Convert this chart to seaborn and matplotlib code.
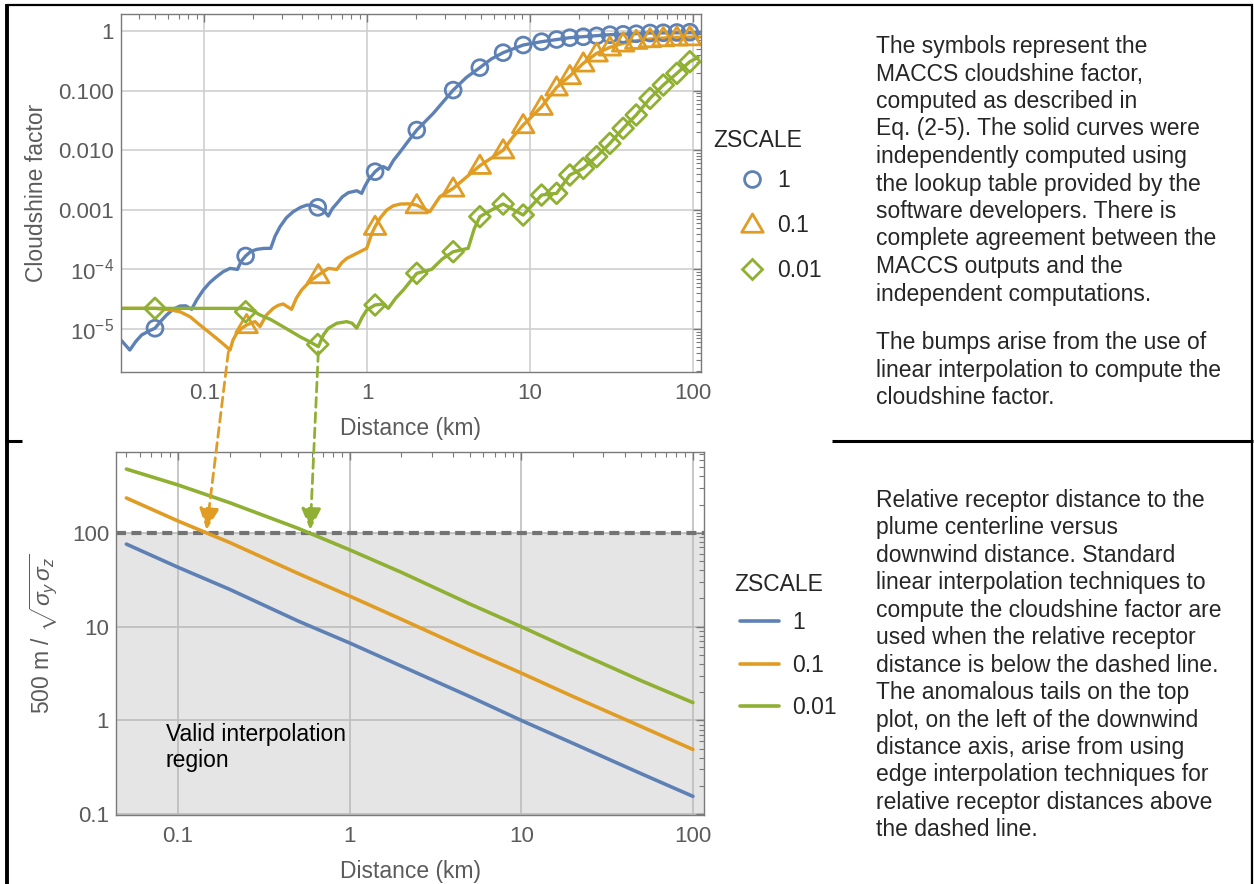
import numpy as np
import pandas as pd
import matplotlib
matplotlib.use("Agg")
import matplotlib.pyplot as plt
import seaborn as sns
from matplotlib.lines import Line2D
from matplotlib.path import Path
from matplotlib.patches import ConnectionPatch
from matplotlib.ticker import FixedLocator, FixedFormatter, LogLocator, NullFormatter

# ---------------- data ----------------
zscale_labels = ["1", "0.1", "0.01"]

# top panel: solid curves (lookup-table computation)
blue_line_x = [0.0308, 0.0349, 0.0380, 0.0412, 0.0455, 0.0498, 0.0540, 0.0587, 0.0645, 0.0709, 0.0770,
               0.0836, 0.0900, 0.0986, 0.108, 0.119, 0.131, 0.144, 0.160, 0.168, 0.1795, 0.193, 0.210,
               0.232, 0.256, 0.272, 0.292, 0.320, 0.352, 0.390, 0.426, 0.460, 0.498, 0.540, 0.578,
               0.612, 0.652, 0.705, 0.767, 0.864, 0.927, 0.970, 1.019, 1.12, 1.19, 1.26, 1.35, 1.45,
               1.60, 1.80, 2.02, 2.55, 3.38, 4.08, 4.93, 5.8, 6.85, 9.1, 11.8, 17.6, 31.0, 54.7, 110.0]
blue_line_y = [6.53e-6, 4.44e-6, 6.2e-6, 7.93e-6, 9.2e-6, 1.03e-5, 1.35e-5, 1.72e-5, 2.15e-5, 2.43e-5,
               2.45e-5, 2.14e-5, 3.1e-5, 4.51e-5, 6.0e-5, 7.55e-5, 9.2e-5, 1.04e-4, 1.0e-4, 1.35e-4,
               1.68e-4, 2.0e-4, 2.17e-4, 2.25e-4, 2.26e-4, 3.6e-4, 5.21e-4, 7.4e-4, 9.3e-4, 1.1e-3,
               1.2e-3, 1.2e-3, 1.12e-3, 9.8e-4, 7.87e-4, 1.05e-3, 1.28e-3, 1.65e-3, 1.94e-3, 2.09e-3,
               1.89e-3, 2.5e-3, 3.16e-3, 4.36e-3, 5.0e-3, 5.3e-3, 4.78e-3, 6.7e-3, 9.45e-3, 0.0145,
               0.0218, 0.0415, 0.102, 0.167, 0.243, 0.34, 0.433, 0.582, 0.662, 0.773, 0.868, 0.926, 0.94]

orange_line_x = [0.0308, 0.0498, 0.0600, 0.0709, 0.082, 0.094, 0.106, 0.119, 0.131, 0.144, 0.150, 0.158,
                 0.170, 0.182, 0.205, 0.22, 0.24, 0.265, 0.285, 0.305, 0.344, 0.368, 0.396, 0.45, 0.502,
                 0.578, 0.652, 0.70, 0.75, 0.864, 0.995, 1.07, 1.12, 1.20, 1.32, 1.45, 1.6, 1.8, 2.02,
                 2.43, 2.8, 3.38, 4.93, 6.85, 7.9, 9.1, 10.5, 11.8, 14.6, 17.6, 21.3, 25.7, 31.0,
                 37.4, 45.0, 54.7, 66.0, 80.0, 96.0, 110.0]
orange_line_y = [2.22e-5, 2.22e-5, 2.12e-5, 1.95e-5, 1.6e-5, 1.17e-5, 9.0e-6, 6.97e-6, 5.6e-6, 4.44e-6,
                 6.5e-6, 8.46e-6, 1.03e-5, 1.17e-5, 1.33e-5, 1.1e-5, 1.7e-5, 2.22e-5, 2.5e-5, 2.63e-5,
                 2.14e-5, 3.3e-5, 4.51e-5, 6.5e-5, 8.05e-5, 1.04e-4, 1.0e-4, 1.3e-4, 1.53e-4, 1.86e-4,
                 2.26e-4, 4.03e-4, 5.21e-4, 7.2e-4, 9.93e-4, 1.17e-3, 1.25e-3, 1.26e-3, 1.2e-3, 9.3e-4,
                 1.66e-3, 2.29e-3, 5.5e-3, 0.010, 0.0169, 0.0265, 0.039, 0.0537, 0.1135, 0.176, 0.287,
                 0.422, 0.532, 0.621, 0.688, 0.734, 0.763, 0.783, 0.79, 0.79]

green_line_x = [0.0308, 0.178, 0.20, 0.22, 0.255, 0.292, 0.335, 0.387, 0.44, 0.502, 0.54, 0.578, 0.652,
                0.75, 0.81, 0.864, 0.93, 0.995, 1.12, 1.26, 1.35, 1.50, 1.67, 2.02, 2.49, 2.9, 3.38,
                4.18, 4.55, 4.93, 5.81, 6.85, 9.1, 11.8, 14.6, 17.6, 21.3, 25.7, 31.0, 37.4, 45.0,
                54.7, 66.0, 80.0, 96.0, 108.0]
green_line_y = [2.22e-5, 2.22e-5, 2.0e-5, 1.72e-5, 1.45e-5, 1.17e-5, 9.4e-6, 7.43e-6, 6.2e-6, 5.06e-6,
                8.0e-6, 1.03e-5, 1.25e-5, 1.33e-5, 1.25e-5, 1.03e-5, 1.55e-5, 2.08e-5, 2.53e-5, 2.63e-5,
                2.22e-5, 3.3e-5, 4.51e-5, 8.6e-5, 1.0e-4, 1.5e-4, 1.98e-4, 2.26e-4, 4.8e-4, 7.67e-4,
                9.93e-4, 1.25e-3, 8.18e-4, 1.77e-3, 1.89e-3, 3.84e-3, 4.96e-3, 7.8e-3, 0.013, 0.0233,
                0.039, 0.0742, 0.124, 0.195, 0.306, 0.361]

# top panel: MACCS symbols
blue_mark_x = [0.0498, 0.1795, 0.498, 1.12, 2.02, 3.38, 4.93, 6.85, 9.1, 11.8, 14.6, 17.6, 21.3, 25.7,
               31.0, 37.4, 45.0, 54.7, 66.0, 80.0, 96.0]
blue_mark_y = [1.03e-5, 1.68e-4, 1.1e-3, 4.36e-3, 0.0218, 0.102, 0.243, 0.433, 0.582, 0.662, 0.72,
               0.773, 0.80, 0.83, 0.868, 0.88, 0.90, 0.926, 0.935, 0.945, 0.955]
orange_mark_x = [0.182, 0.502, 1.12, 2.02, 3.38, 4.93, 6.85, 9.1, 11.8, 14.6, 17.6, 21.3, 25.7, 31.0,
                 37.4, 45.0, 54.7, 66.0, 80.0, 96.0]
orange_mark_y = [1.17e-5, 8.05e-5, 5.21e-4, 1.2e-3, 2.29e-3, 5.5e-3, 0.010, 0.0265, 0.0537, 0.1135,
                 0.176, 0.287, 0.422, 0.532, 0.621, 0.688, 0.734, 0.763, 0.783, 0.79]
green_mark_x = [0.0498, 0.1795, 0.498, 1.12, 2.02, 3.38, 4.93, 6.85, 9.1, 11.8, 14.6, 17.6, 21.3, 25.7,
                31.0, 37.4, 45.0, 54.7, 66.0, 80.0, 96.0]
green_mark_y = [2.22e-5, 1.95e-5, 5.5e-6, 2.53e-5, 8.6e-5, 1.98e-4, 7.67e-4, 1.25e-3, 8.18e-4, 1.77e-3,
                1.89e-3, 3.84e-3, 4.96e-3, 7.8e-3, 0.013, 0.0233, 0.039, 0.0742, 0.124, 0.195, 0.306]

# bottom panel: 500 m / sqrt(sigma_y sigma_z)
dist_km = [0.05, 0.1, 0.2, 0.5, 1, 2, 5, 10, 20, 50, 100]
rel_blue = [76, 43, 25, 11.5, 6.7, 3.8, 1.8, 1.0, 0.57, 0.27, 0.155]
rel_orange = [236, 134, 79, 37, 21.2, 12, 5.6, 3.2, 1.8, 0.86, 0.49]
rel_green = [480, 325, 210, 112, 66, 38, 17.5, 10, 5.6, 2.65, 1.55]
threshold = 100

# arrows: anomalous-tail cusps (top) -> crossings of the dashed line (bottom)
cusp_x = [0.1406, 0.502]
cusp_y = [4.16e-6, 4.16e-6]
cross_x = [0.1465, 0.589]
cross_y = [108, 108]

# ---------------- style ----------------
sns.set_theme(style="white")
plt.rcParams["font.family"] = ["Liberation Sans", "DejaVu Sans"]
plt.rcParams["mathtext.fontset"] = "custom"
plt.rcParams["mathtext.rm"] = "Liberation Sans"
plt.rcParams["mathtext.it"] = "Liberation Sans:italic"
plt.rcParams["mathtext.bf"] = "Liberation Sans:bold"

BLUE, ORANGE, GREEN = "#5E81B5", "#E19C24", "#8FB032"
colors = [BLUE, ORANGE, GREEN]
TICKC = "#5b5b5b"
SPINEC = "#7a7a7a"
GRIDC = "#cfcfcf"
FS_TICK = 16
FS_LAB = 16.5
FS_TXT = 16.5

W, H = 1254, 884
fig = plt.figure(figsize=(W / 100, H / 100), dpi=100)

ax1 = fig.add_axes([121 / W, 1 - 372 / H, 580 / W, 358 / H])
ax2 = fig.add_axes([116 / W, 1 - 815 / H, 588 / W, 363 / H])

for ax in (ax1, ax2):
    ax.set_xscale("log")
    ax.set_yscale("log")

# ---------------- top panel ----------------
tri = Path([(-1, -0.72), (1, -0.72), (0, 0.98), (-1, -0.72)],
           [Path.MOVETO, Path.LINETO, Path.LINETO, Path.CLOSEPOLY])
markers = ["o", tri, "D"]
msizes = [11.4, 15.5, 10.6]

lines = [(blue_line_x, blue_line_y), (orange_line_x, orange_line_y), (green_line_x, green_line_y)]
marks = [(blue_mark_x, blue_mark_y), (orange_mark_x, orange_mark_y), (green_mark_x, green_mark_y)]

for (lx, ly), c in zip(lines, colors):
    sns.lineplot(x=lx, y=ly, ax=ax1, color=c, linewidth=2.4, estimator=None, sort=False, zorder=3)
for (mx, my), c, m, ms in zip(marks, colors, markers, msizes):
    sns.scatterplot(x=mx, y=my, ax=ax1, marker=m, s=ms ** 2, facecolor="none", edgecolor=c,
                    linewidth=2.0, zorder=4)

ax1.set_xlim(0.0308, 112.5)
ax1.set_ylim(1.9e-6, 1.93)
ax1.xaxis.set_major_locator(FixedLocator([0.1, 1, 10, 100]))
ax1.xaxis.set_major_formatter(FixedFormatter(["0.1", "1", "10", "100"]))
ax1.yaxis.set_major_locator(FixedLocator([1e-5, 1e-4, 1e-3, 1e-2, 1e-1, 1]))
ax1.yaxis.set_major_formatter(FixedFormatter(["$10^{-5}$", "$10^{-4}$", "0.001", "0.010", "0.100", "1"]))
ax1.set_xlabel("Distance (km)", fontsize=FS_LAB, color=TICKC)
ax1.set_ylabel("Cloudshine factor", fontsize=FS_LAB, color=TICKC)
ax1.xaxis.set_label_coords(0.5, -0.125)
ax1.yaxis.set_label_coords(-0.126, 0.5)

# ---------------- bottom panel ----------------
ax2.axhspan(0.01, threshold, color="#e5e5e5", zorder=0.2, lw=0)
for ys, c in zip([rel_blue, rel_orange, rel_green], colors):
    sns.lineplot(x=dist_km, y=ys, ax=ax2, color=c, linewidth=2.6, estimator=None, sort=False, zorder=3)
ax2.axhline(threshold, color="#737373", lw=3.0, ls=(0, (2.4, 1.3)), zorder=2.8)

ax2.set_xlim(0.0435, 116)
ax2.set_ylim(0.098, 730)
ax2.xaxis.set_major_locator(FixedLocator([0.1, 1, 10, 100]))
ax2.xaxis.set_major_formatter(FixedFormatter(["0.1", "1", "10", "100"]))
ax2.yaxis.set_major_locator(FixedLocator([0.1, 1, 10, 100]))
ax2.yaxis.set_major_formatter(FixedFormatter(["0.1", "1", "10", "100"]))
ax2.set_xlabel("Distance (km)", fontsize=FS_LAB, color=TICKC)
ax2.set_ylabel(r"500 m / $\sqrt{\sigma_y\,\sigma_z}$", fontsize=FS_LAB, color=TICKC)
ax2.xaxis.set_label_coords(0.5, -0.125)
ax2.yaxis.set_label_coords(-0.095, 0.5)
ax2.text(0.085, 0.93, "Valid interpolation\nregion", fontsize=FS_TXT, color="black",
         transform=ax2.transData, va="top", ha="left", linespacing=1.15)

# common axis styling (grid above the shading, below the data lines)
for ax, gc in ((ax1, GRIDC), (ax2, "#bdbdbd")):
    ax.grid(True, which="major", color=gc, lw=1.2)
    ax.set_axisbelow("line")
    ax.xaxis.set_minor_locator(LogLocator(base=10, subs=np.arange(2, 10)))
    ax.yaxis.set_minor_locator(LogLocator(base=10, subs=np.arange(2, 10)))
    ax.xaxis.set_minor_formatter(NullFormatter())
    ax.yaxis.set_minor_formatter(NullFormatter())
    ax.tick_params(which="both", direction="in", top=True, right=True, colors=SPINEC,
                   labelcolor=TICKC, labelsize=FS_TICK)
    ax.tick_params(which="major", length=6, width=1)
    ax.tick_params(which="minor", length=3.5, width=0.8)
    ax.tick_params(axis="x", pad=8)
    ax.tick_params(axis="y", pad=5)
    for sp in ax.spines.values():
        sp.set_color(SPINEC)
        sp.set_linewidth(1.0)
        sp.set_zorder(5)

# ---------------- legends ----------------
h1 = [Line2D([], [], ls="none", marker=m, ms=ms, mfc="none", mec=c, mew=2.0)
      for m, ms, c in zip(markers, msizes, colors)]
ax1.legend(h1, zscale_labels, loc="upper left", bbox_to_anchor=(1.068, 0.567), frameon=False,
           borderpad=0, borderaxespad=0, handlelength=1.0, handletextpad=0.6,
           labelspacing=0.95, fontsize=FS_TXT)
ax1.text(1.0207, 0.648, "ZSCALE", transform=ax1.transAxes, fontsize=FS_TXT, va="center", ha="left")

h2 = [Line2D([], [], color=c, lw=2.6) for c in colors]
ax2.legend(h2, zscale_labels, loc="upper left", bbox_to_anchor=(1.061, 0.562), frameon=False,
           borderpad=0, borderaxespad=0, handlelength=1.7, handletextpad=0.6,
           labelspacing=0.86, fontsize=FS_TXT)
ax2.text(1.051, 0.634, "ZSCALE", transform=ax2.transAxes, fontsize=FS_TXT, va="center", ha="left")

# ---------------- arrows ----------------
for xa, ya, xb, yb, c in zip(cusp_x, cusp_y, cross_x, cross_y, [ORANGE, GREEN]):
    con = ConnectionPatch(xyA=(xa, ya), coordsA=ax1.transData, xyB=(xb, yb), coordsB=ax2.transData,
                          arrowstyle="-|>,head_length=0.65,head_width=0.3", mutation_scale=20,
                          color=c, lw=2.0, ls=(0, (3.5, 2.0)), shrinkA=0, shrinkB=0, zorder=10)
    con.set_clip_on(False)
    fig.add_artist(con)

# ---------------- side texts ----------------
tx = 876 / W
fig.text(tx, 1 - 35 / H,
         "The symbols represent the\nMACCS cloudshine factor,\ncomputed as described in\n"
         "Eq. (2-5). The solid curves were\nindependently computed using\nthe lookup table provided by the\n"
         "software developers. There is\ncomplete agreement between the\nMACCS outputs and the\n"
         "independent computations.",
         fontsize=FS_TXT, va="top", ha="left", linespacing=1.25)
fig.text(tx, 1 - 331.5 / H,
         "The bumps arise from the use of\nlinear interpolation to compute the\ncloudshine factor.",
         fontsize=FS_TXT, va="top", ha="left", linespacing=1.25)
fig.text(tx, 1 - 488.5 / H,
         "Relative receptor distance to the\nplume centerline versus\ndownwind distance. Standard\n"
         "linear interpolation techniques to\ncompute the cloudshine factor are\nused when the relative receptor\n"
         "distance is below the dashed line.\nThe anomalous tails on the top\nplot, on the left of the downwind\n"
         "distance axis, arise from using\nedge interpolation techniques for\nrelative receptor distances above\n"
         "the dashed line.",
         fontsize=FS_TXT, va="top", ha="left", linespacing=1.25)

# ---------------- table borders ----------------
def fline(x0, y0, x1, y1, lw):
    fig.add_artist(Line2D([x0 / W, x1 / W], [1 - y0 / H, 1 - y1 / H], transform=fig.transFigure,
                          color="black", lw=lw, solid_capstyle="butt"))

fline(7, 5, 1253, 5, 1.6)
fline(7, 4, 7, 884, 2.8)
fline(1252, 4, 1252, 884, 1.6)
fline(5, 441, 22, 441, 2.2)
fline(832, 441, 1253, 441, 2.2)

fig.savefig("out.png", dpi=100)
